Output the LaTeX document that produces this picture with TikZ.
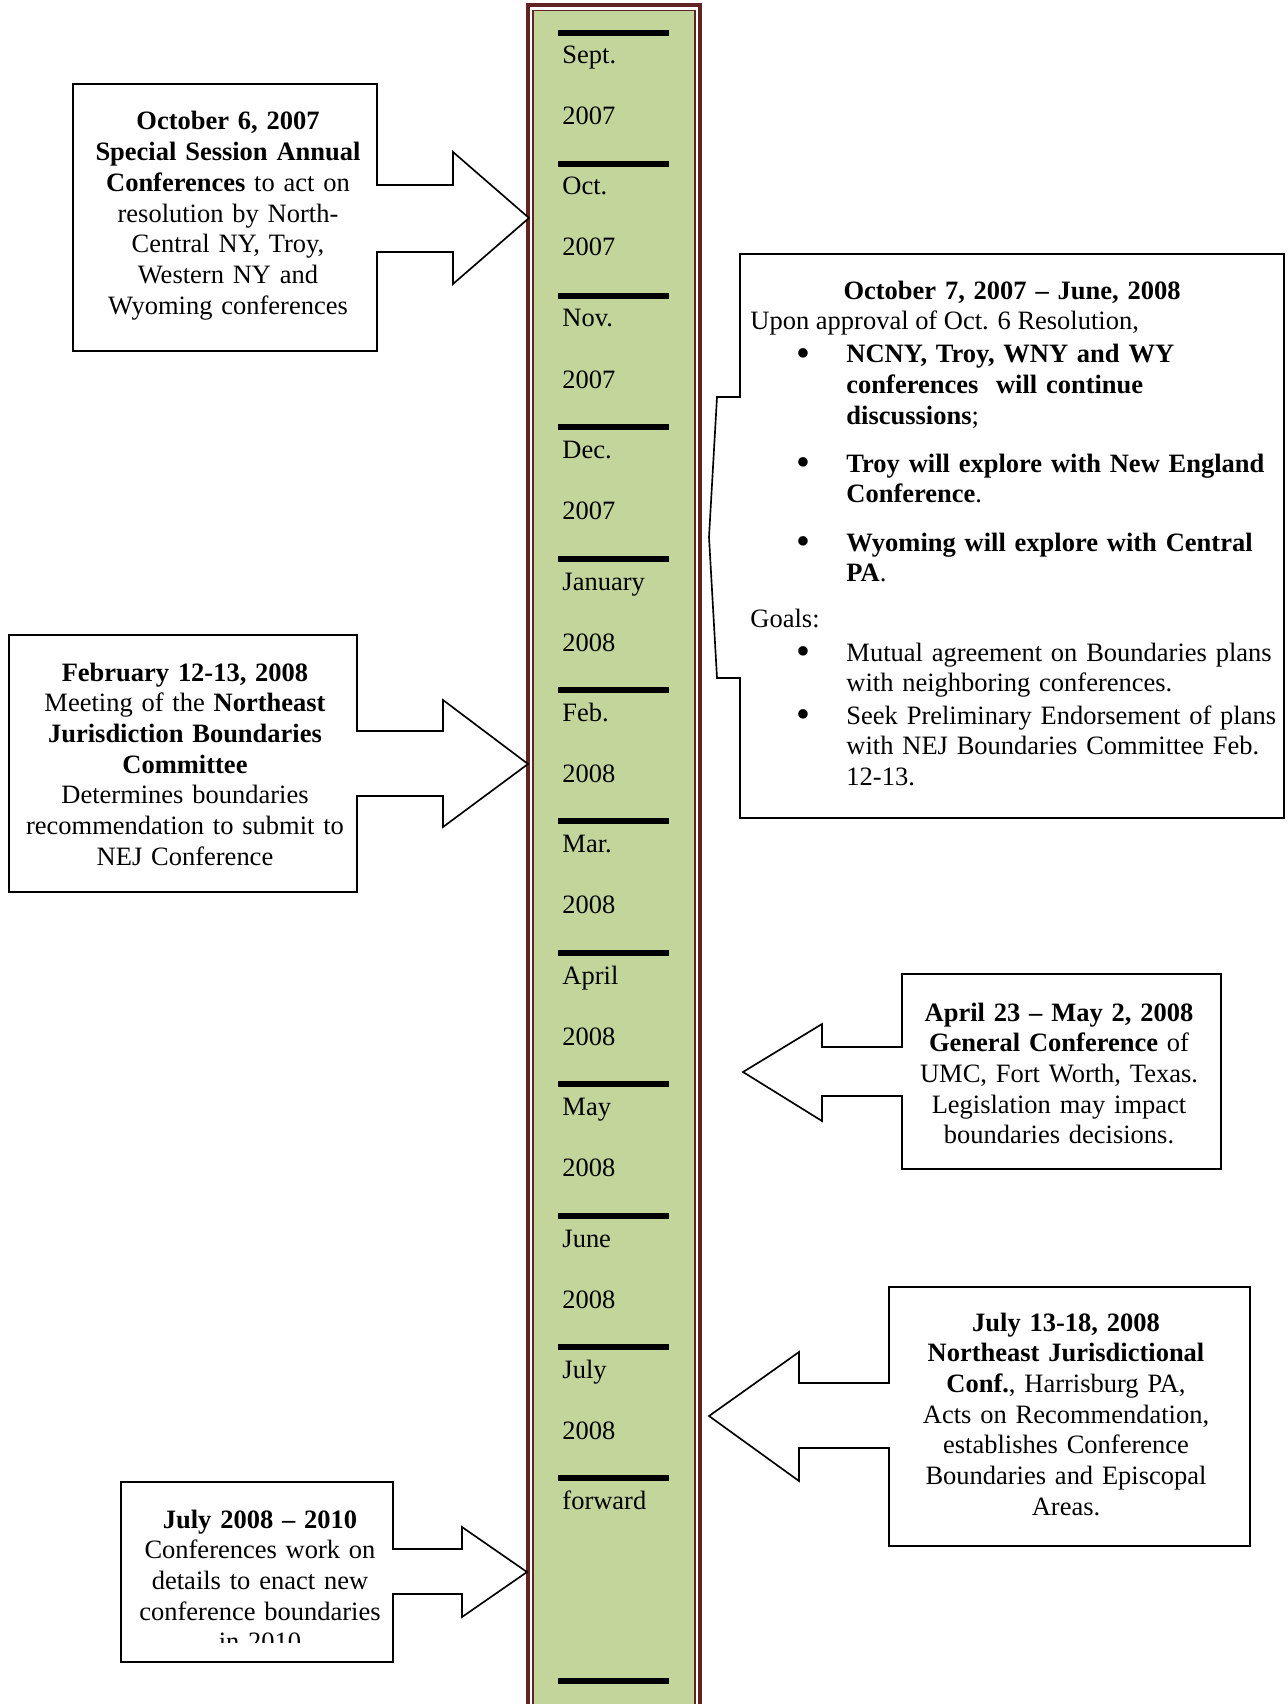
\documentclass[tikz,border=0pt]{standalone}
\usepackage{fontspec}
\setmainfont{Liberation Serif}
\definecolor{barred}{HTML}{622423}
\definecolor{bargreen}{HTML}{C2D69B}
\tikzset{
	callout/.style={draw=black, line width=0.75pt, fill=white},
	boxtext/.style={font=\fontsize{12}{13.9}\selectfont, align=center, inner sep=0pt, anchor=base},
	listtext/.style={font=\fontsize{12}{13.9}\selectfont, align=left, inner sep=0pt, anchor=base west, text width=200pt},
	listdot/.style={font=\fontsize{18}{18}\selectfont, inner sep=0pt, anchor=center},
	monthtext/.style={font=\fontsize{12}{13.9}\selectfont, inner sep=0pt, anchor=base west},
	tickline/.style={line width=2.7pt}
}
\def\monthtick(#1)(#2:#3){\draw[tickline] (558,#1) -- (669,#1);
	\node[monthtext] (mon#1) at (562,#1+31) {#2};
	\node[monthtext] (yr#1) at (562,#1+92) {#3};}

\begin{document}
\begin{tikzpicture}[x=0.453pt, y=-0.453pt]
			%%%%% START %%%%%
			
			\useasboundingbox (0,0) rectangle (1287,1704);
			\clip (0,0) rectangle (1287,1704);
			
			\draw[barred, line width=1.8pt, fill=white] (528,5) rectangle (700,1720);
			\draw[barred, line width=0.9pt, fill=bargreen] (533,10.5) rectangle (695,1720);
			
			\monthtick(33)(Sept.:2007)
			\monthtick(164)(Oct.:2007)
			\monthtick(296)(Nov.:2007)
			\monthtick(427)(Dec.:2007)
			\monthtick(559)(January:2008)
			\monthtick(690)(Feb.:2008)
			\monthtick(821)(Mar.:2008)
			\monthtick(953)(April:2008)
			\monthtick(1084)(May:2008)
			\monthtick(1216)(June:2008)
			\monthtick(1347)(July:2008)
			\monthtick(1478)(forward:)
			\draw[tickline] (558,1681) -- (669,1681);
			
			\draw[callout] (73,84) -- (377,84) -- (377,185) -- (453,185) -- (453,152) -- (529,218) -- (453,284) -- (453,252) -- (377,252) -- (377,351) -- (73,351) -- cycle;
			\node[boxtext, text width=136pt] (oct6) at (228,130) {\textbf{October 6, 2007}\\\textbf{Special Session Annual}\\\textbf{Conferences} to act on\\resolution by North-\\Central NY, Troy,\\Western NY and\\Wyoming conferences};
			
			\draw[callout] (9,635) -- (357,635) -- (357,731) -- (443,731) -- (443,700) -- (528,764) -- (443,827) -- (443,796) -- (357,796) -- (357,892) -- (9,892) -- cycle;
			\node[boxtext, text width=155pt] (feb12) at (185,681) {\textbf{February 12-13, 2008}\\Meeting of the \textbf{Northeast}\\\textbf{Jurisdiction Boundaries}\\\textbf{Committee}\\Determines boundaries\\recommendation to submit to\\NEJ Conference};
			
			\draw[callout] (740,254) -- (1284,254) -- (1284,818) -- (740,818) -- (740,678) -- (717,678) -- (709,537) -- (717,397) -- (740,397) -- cycle;
			\node[boxtext, text width=240pt] (oct7) at (1012,300) {\textbf{October 7, 2007 -- June, 2008}};
			\node[monthtext] (upon) at (750,330) {Upon approval of Oct. 6 Resolution,};
			\node[listdot] (dotA) at (803,358) {\textbullet};
			\node[listtext] (itemA) at (846,363) {\textbf{NCNY, Troy, WNY and WY}\\\textbf{conferences~ will continue}\\\textbf{discussions};};
			\node[listdot] (dotB) at (803,467) {\textbullet};
			\node[listtext] (itemB) at (846,472) {\textbf{Troy will explore with New England}\\\textbf{Conference}.};
			\node[listdot] (dotC) at (803,546) {\textbullet};
			\node[listtext] (itemC) at (846,551) {\textbf{Wyoming will explore with Central}\\\textbf{PA}.};
			\node[monthtext] (goals) at (750,627) {Goals:};
			\node[listdot] (dotD) at (803,656) {\textbullet};
			\node[listtext] (itemD) at (846,661) {Mutual agreement on Boundaries plans\\with neighboring conferences.};
			\node[listdot] (dotE) at (803,719) {\textbullet};
			\node[listtext] (itemE) at (846,724) {Seek Preliminary Endorsement of plans\\with NEJ Boundaries Committee Feb.\\12-13.};
			
			\draw[callout] (1221,974) -- (1221,1169) -- (902,1169) -- (902,1096) -- (822,1096) -- (822,1121) -- (743,1072) -- (822,1024) -- (822,1047) -- (902,1047) -- (902,974) -- cycle;
			\node[boxtext, text width=140pt] (april23) at (1059,1021) {\textbf{April 23 -- May 2, 2008}\\\textbf{General Conference} of\\UMC, Fort Worth, Texas.\\Legislation may impact\\boundaries decisions.};
			
			\draw[callout] (1250,1287) -- (1250,1546) -- (889,1546) -- (889,1448) -- (799,1448) -- (799,1481) -- (709,1416) -- (799,1352) -- (799,1383) -- (889,1383) -- (889,1287) -- cycle;
			\node[boxtext, text width=160pt] (july13) at (1066,1331) {\textbf{July 13-18, 2008}\\\textbf{Northeast Jurisdictional}\\\textbf{Conf.}, Harrisburg PA,\\Acts on Recommendation,\\establishes Conference\\Boundaries and Episcopal\\Areas.};
			
			\draw[callout] (121,1482) -- (393,1482) -- (393,1549) -- (462,1549) -- (462,1527) -- (527,1572) -- (462,1617) -- (462,1594) -- (393,1594) -- (393,1662) -- (121,1662) -- cycle;
			\begin{scope}
				\clip (121,1482) rectangle (393,1642);
				\node[boxtext, text width=120pt] (july08) at (260,1528) {\textbf{July 2008 -- 2010}\\Conferences work on\\details to enact new\\conference boundaries\\in 2010};
			\end{scope}
			
			%%%%% END %%%%%
\end{tikzpicture}
\end{document}
